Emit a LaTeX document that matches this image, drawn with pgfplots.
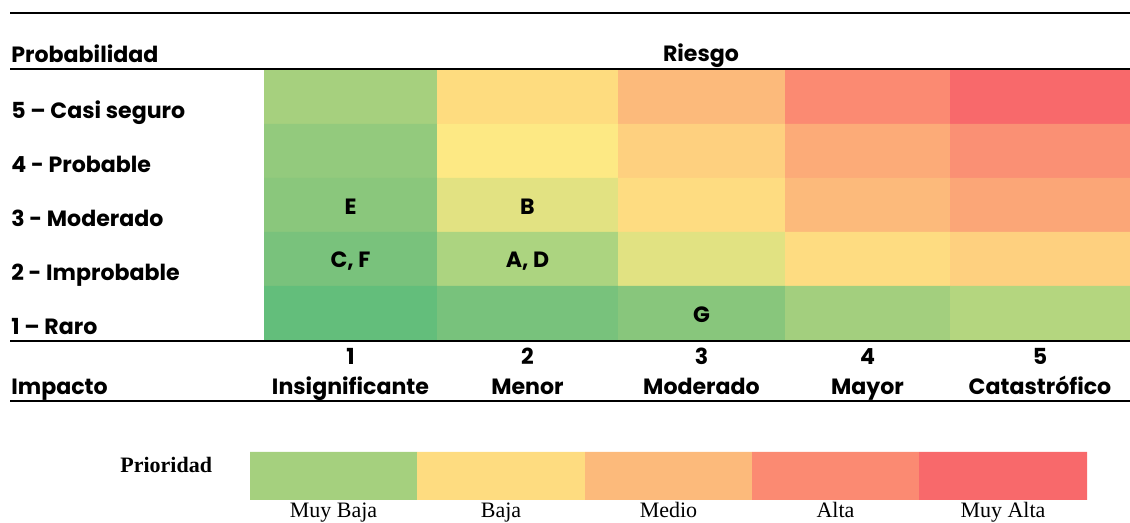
\documentclass[border=0pt]{standalone}
\usepackage{pgfplots}
\pgfplotsset{compat=1.18}
\usepackage{fontspec}
\setmainfont{Poppins}
\newfontfamily\timesf{Liberation Serif}

\definecolor{a51}{HTML}{A6D07E}\definecolor{a52}{HTML}{FEDC7F}\definecolor{a53}{HTML}{FCBA7B}\definecolor{a54}{HTML}{FB8A72}\definecolor{a55}{HTML}{F8696B}
\definecolor{a41}{HTML}{93CA7D}\definecolor{a42}{HTML}{FDE984}\definecolor{a43}{HTML}{FED07F}\definecolor{a44}{HTML}{FCAB78}\definecolor{a45}{HTML}{FA9074}
\definecolor{a31}{HTML}{8AC77C}\definecolor{a32}{HTML}{E2E282}\definecolor{a33}{HTML}{FEDC81}\definecolor{a34}{HTML}{FCBA7B}\definecolor{a35}{HTML}{FBA677}
\definecolor{a21}{HTML}{79C27C}\definecolor{a22}{HTML}{ACD480}\definecolor{a23}{HTML}{E1E282}\definecolor{a24}{HTML}{FEDC81}\definecolor{a25}{HTML}{FED07F}
\definecolor{a11}{HTML}{63BE7B}\definecolor{a12}{HTML}{78C27C}\definecolor{a13}{HTML}{88C67C}\definecolor{a14}{HTML}{A3CF7E}\definecolor{a15}{HTML}{B4D67F}
\definecolor{l1}{HTML}{A5D07E}\definecolor{l2}{HTML}{FEDC80}\definecolor{l3}{HTML}{FCBA7B}\definecolor{l4}{HTML}{FB8A72}\definecolor{l5}{HTML}{F8696B}

% x0 x1 y0 y1 colour
\newcommand{\cell}[5]{\addplot[draw=none,mark=none,fill=#5,forget plot] coordinates {(#1,#3) (#2,#3) (#2,#4) (#1,#4) (#1,#3)};}
\newcommand{\bfs}{\bfseries\fontsize{11.05}{13}\selectfont}
\newcommand{\tms}{\timesf\fontsize{11}{13}\selectfont}

\begin{document}
\begin{tikzpicture}
\begin{axis}[
  width=565pt, height=261.5pt, scale only axis,
  xmin=0, xmax=1130, ymin=0, ymax=523, y dir=reverse,
  hide axis, clip=false]
% row 5 (Casi seguro)
\cell{264}{437}{70}{124}{a51}\cell{437}{618}{70}{124}{a52}\cell{618}{785}{70}{124}{a53}\cell{785}{950}{70}{124}{a54}\cell{950}{1130}{70}{124}{a55}
% row 4
\cell{264}{437}{124}{178}{a41}\cell{437}{618}{124}{178}{a42}\cell{618}{785}{124}{178}{a43}\cell{785}{950}{124}{178}{a44}\cell{950}{1130}{124}{178}{a45}
% row 3
\cell{264}{437}{178}{232}{a31}\cell{437}{618}{178}{232}{a32}\cell{618}{785}{178}{232}{a33}\cell{785}{950}{178}{232}{a34}\cell{950}{1130}{178}{232}{a35}
% row 2
\cell{264}{437}{232}{286}{a21}\cell{437}{618}{232}{286}{a22}\cell{618}{785}{232}{286}{a23}\cell{785}{950}{232}{286}{a24}\cell{950}{1130}{232}{286}{a25}
% row 1
\cell{264}{437}{286}{340}{a11}\cell{437}{618}{286}{340}{a12}\cell{618}{785}{286}{340}{a13}\cell{785}{950}{286}{340}{a14}\cell{950}{1130}{286}{340}{a15}
% legend strip
\cell{250}{417}{452}{500}{l1}\cell{417}{585}{452}{500}{l2}\cell{585}{752}{452}{500}{l3}\cell{752}{919}{452}{500}{l4}\cell{919}{1087}{452}{500}{l5}

% rules
\draw[line width=1pt] (axis cs:10,13) -- (axis cs:1130,13);
\draw[line width=0.9pt] (axis cs:10,69) -- (axis cs:1130,69);
\draw[line width=1.2pt] (axis cs:10,341) -- (axis cs:1130,341);
\draw[line width=0.9pt] (axis cs:10,401) -- (axis cs:1130,401);

% headers
\node[anchor=base west,font=\bfs,inner sep=0pt] at (axis cs:11,63) {Probabilidad};
\node[anchor=base,font=\bfs,inner sep=0pt] at (axis cs:701,62) {Riesgo};
\node[anchor=base west,font=\bfs,inner sep=0pt] at (axis cs:11,119) {5 – Casi seguro};
\node[anchor=base west,font=\bfs,inner sep=0pt] at (axis cs:11,173) {4 - Probable};
\node[anchor=base west,font=\bfs,inner sep=0pt] at (axis cs:11,227) {3 - Moderado};
\node[anchor=base west,font=\bfs,inner sep=0pt] at (axis cs:11,281) {2 - Improbable};
\node[anchor=base west,font=\bfs,inner sep=0pt] at (axis cs:11,335) {1 – Raro};
\node[anchor=base west,font=\bfs,inner sep=0pt] at (axis cs:11,395) {Impacto};

% column labels
\node[anchor=base,font=\bfs,inner sep=0pt] at (axis cs:350.5,365) {1};
\node[anchor=base,font=\bfs,inner sep=0pt] at (axis cs:350.5,395) {Insignificante};
\node[anchor=base,font=\bfs,inner sep=0pt] at (axis cs:527.5,365) {2};
\node[anchor=base,font=\bfs,inner sep=0pt] at (axis cs:527.5,395) {Menor};
\node[anchor=base,font=\bfs,inner sep=0pt] at (axis cs:701.5,365) {3};
\node[anchor=base,font=\bfs,inner sep=0pt] at (axis cs:701.5,395) {Moderado};
\node[anchor=base,font=\bfs,inner sep=0pt] at (axis cs:867.5,365) {4};
\node[anchor=base,font=\bfs,inner sep=0pt] at (axis cs:867.5,395) {Mayor};
\node[anchor=base,font=\bfs,inner sep=0pt] at (axis cs:1040,365) {5};
\node[anchor=base,font=\bfs,inner sep=0pt] at (axis cs:1040,395) {Catastrófico};

% letters in cells
\node[font=\bfs] at (axis cs:350.5,207) {E};
\node[font=\bfs] at (axis cs:527.5,207) {B};
\node[font=\bfs] at (axis cs:350.5,261) {C, F};
\node[font=\bfs] at (axis cs:527.5,261) {A, D};
\node[font=\bfs] at (axis cs:701.5,315) {G};

% priority legend text
\node[anchor=base west,font=\tms\bfseries,inner sep=0pt] at (axis cs:120,473) {Prioridad};
\node[anchor=base,font=\tms,inner sep=0pt] at (axis cs:333.5,517.5) {Muy Baja};
\node[anchor=base,font=\tms,inner sep=0pt] at (axis cs:501,517.5) {Baja};
\node[anchor=base,font=\tms,inner sep=0pt] at (axis cs:668.5,517.5) {Medio};
\node[anchor=base,font=\tms,inner sep=0pt] at (axis cs:835.5,517.5) {Alta};
\node[anchor=base,font=\tms,inner sep=0pt] at (axis cs:1003,517.5) {Muy Alta};
\end{axis}
\pgfresetboundingbox
\path (0,0) rectangle (565pt,261.5pt);
\end{tikzpicture}
\end{document}
